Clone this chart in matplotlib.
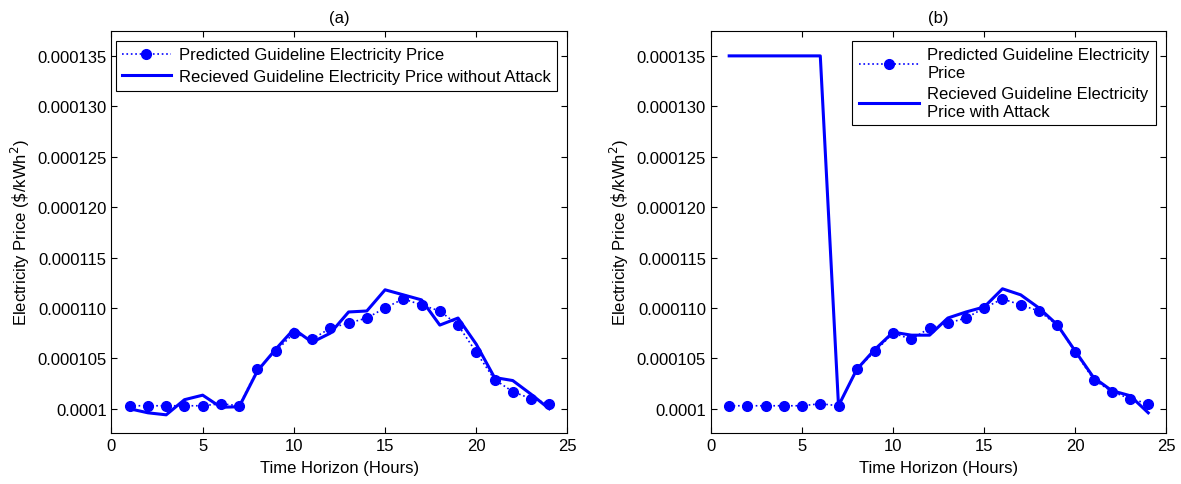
import matplotlib
matplotlib.use('Agg')
import matplotlib.pyplot as plt
from matplotlib.ticker import FixedLocator, FixedFormatter

plt.rcParams['font.family'] = ['Liberation Sans', 'DejaVu Sans']
plt.rcParams['font.size'] = 12

hours = list(range(1, 25))

predicted = [100.3, 100.3, 100.3, 100.3, 100.3, 100.5, 100.3, 103.9, 105.7, 107.5,
             106.9, 108.0, 108.5, 109.0, 110.0, 110.9, 110.3, 109.7, 108.3, 105.6,
             102.9, 101.7, 101.0, 100.5]
received_no_attack = [100.0, 99.6, 99.4, 100.9, 101.35, 100.15, 100.2, 103.75, 105.9, 107.9,
                      106.6, 107.5, 109.6, 109.7, 111.8, 111.3, 110.8, 108.3, 109.0, 106.4,
                      103.1, 102.8, 101.45, 100.0]
received_attack = [135.0, 135.0, 135.0, 135.0, 135.0, 135.0, 100.3, 103.9, 105.9, 107.6,
                   107.3, 107.3, 109.0, 109.6, 110.1, 111.9, 111.3, 110.0, 108.35, 105.7,
                   103.1, 101.8, 101.3, 99.6]

# values above are in 1e-6 $/kWh^2
predicted = [v * 1e-6 for v in predicted]
received_no_attack = [v * 1e-6 for v in received_no_attack]
received_attack = [v * 1e-6 for v in received_attack]

ytick_vals = [0.0001, 0.000105, 0.00011, 0.000115, 0.00012, 0.000125, 0.00013, 0.000135]
ytick_labels = ['0.0001', '0.000105', '0.000110', '0.000115', '0.000120',
                '0.000125', '0.000130', '0.000135']

fig = plt.figure(figsize=(11.81, 4.85), dpi=100)
ax1 = fig.add_axes([0.0944, 0.1052, 0.3861, 0.8295])
ax2 = fig.add_axes([0.6020, 0.1052, 0.3857, 0.8295])

panels = [
    (ax1, received_no_attack, '(a)', 2.9,
     ['Predicted Guideline Electricity Price',
      'Recieved Guideline Electricity Price without Attack']),
    (ax2, received_attack, '(b)', 3.6,
     ['Predicted Guideline Electricity\nPrice',
      'Recieved Guideline Electricity\nPrice with Attack']),
]

for ax, recv, title, hlen, labels in panels:
    ax.plot(hours, predicted, linestyle=':', color='blue', marker='o',
            markersize=7, linewidth=1.2, label=labels[0])
    ax.plot(hours, recv, '-', color='blue', linewidth=2.2, label=labels[1])
    ax.set_xlim(0, 25)
    ax.set_ylim(0.0000976, 0.0001375)
    ax.set_xticks([0, 5, 10, 15, 20, 25])
    ax.yaxis.set_major_locator(FixedLocator(ytick_vals))
    ax.yaxis.set_major_formatter(FixedFormatter(ytick_labels))
    ax.tick_params(direction='in', top=True, right=True, length=4, labelsize=12)
    ax.set_xlabel('Time Horizon (Hours)', labelpad=5)
    ax.set_ylabel('Electricity Price ($\\$$/kWh$^2$)', labelpad=4)
    ax.set_title(title, fontsize=12, pad=6)
    leg = ax.legend(loc='upper right', handlelength=hlen, fancybox=False,
                    framealpha=1, edgecolor='black', borderaxespad=0.6,
                    labelspacing=0.4, handletextpad=0.5, borderpad=0.4)
    leg.get_frame().set_linewidth(0.8)

plt.savefig('out.png', dpi=100)
